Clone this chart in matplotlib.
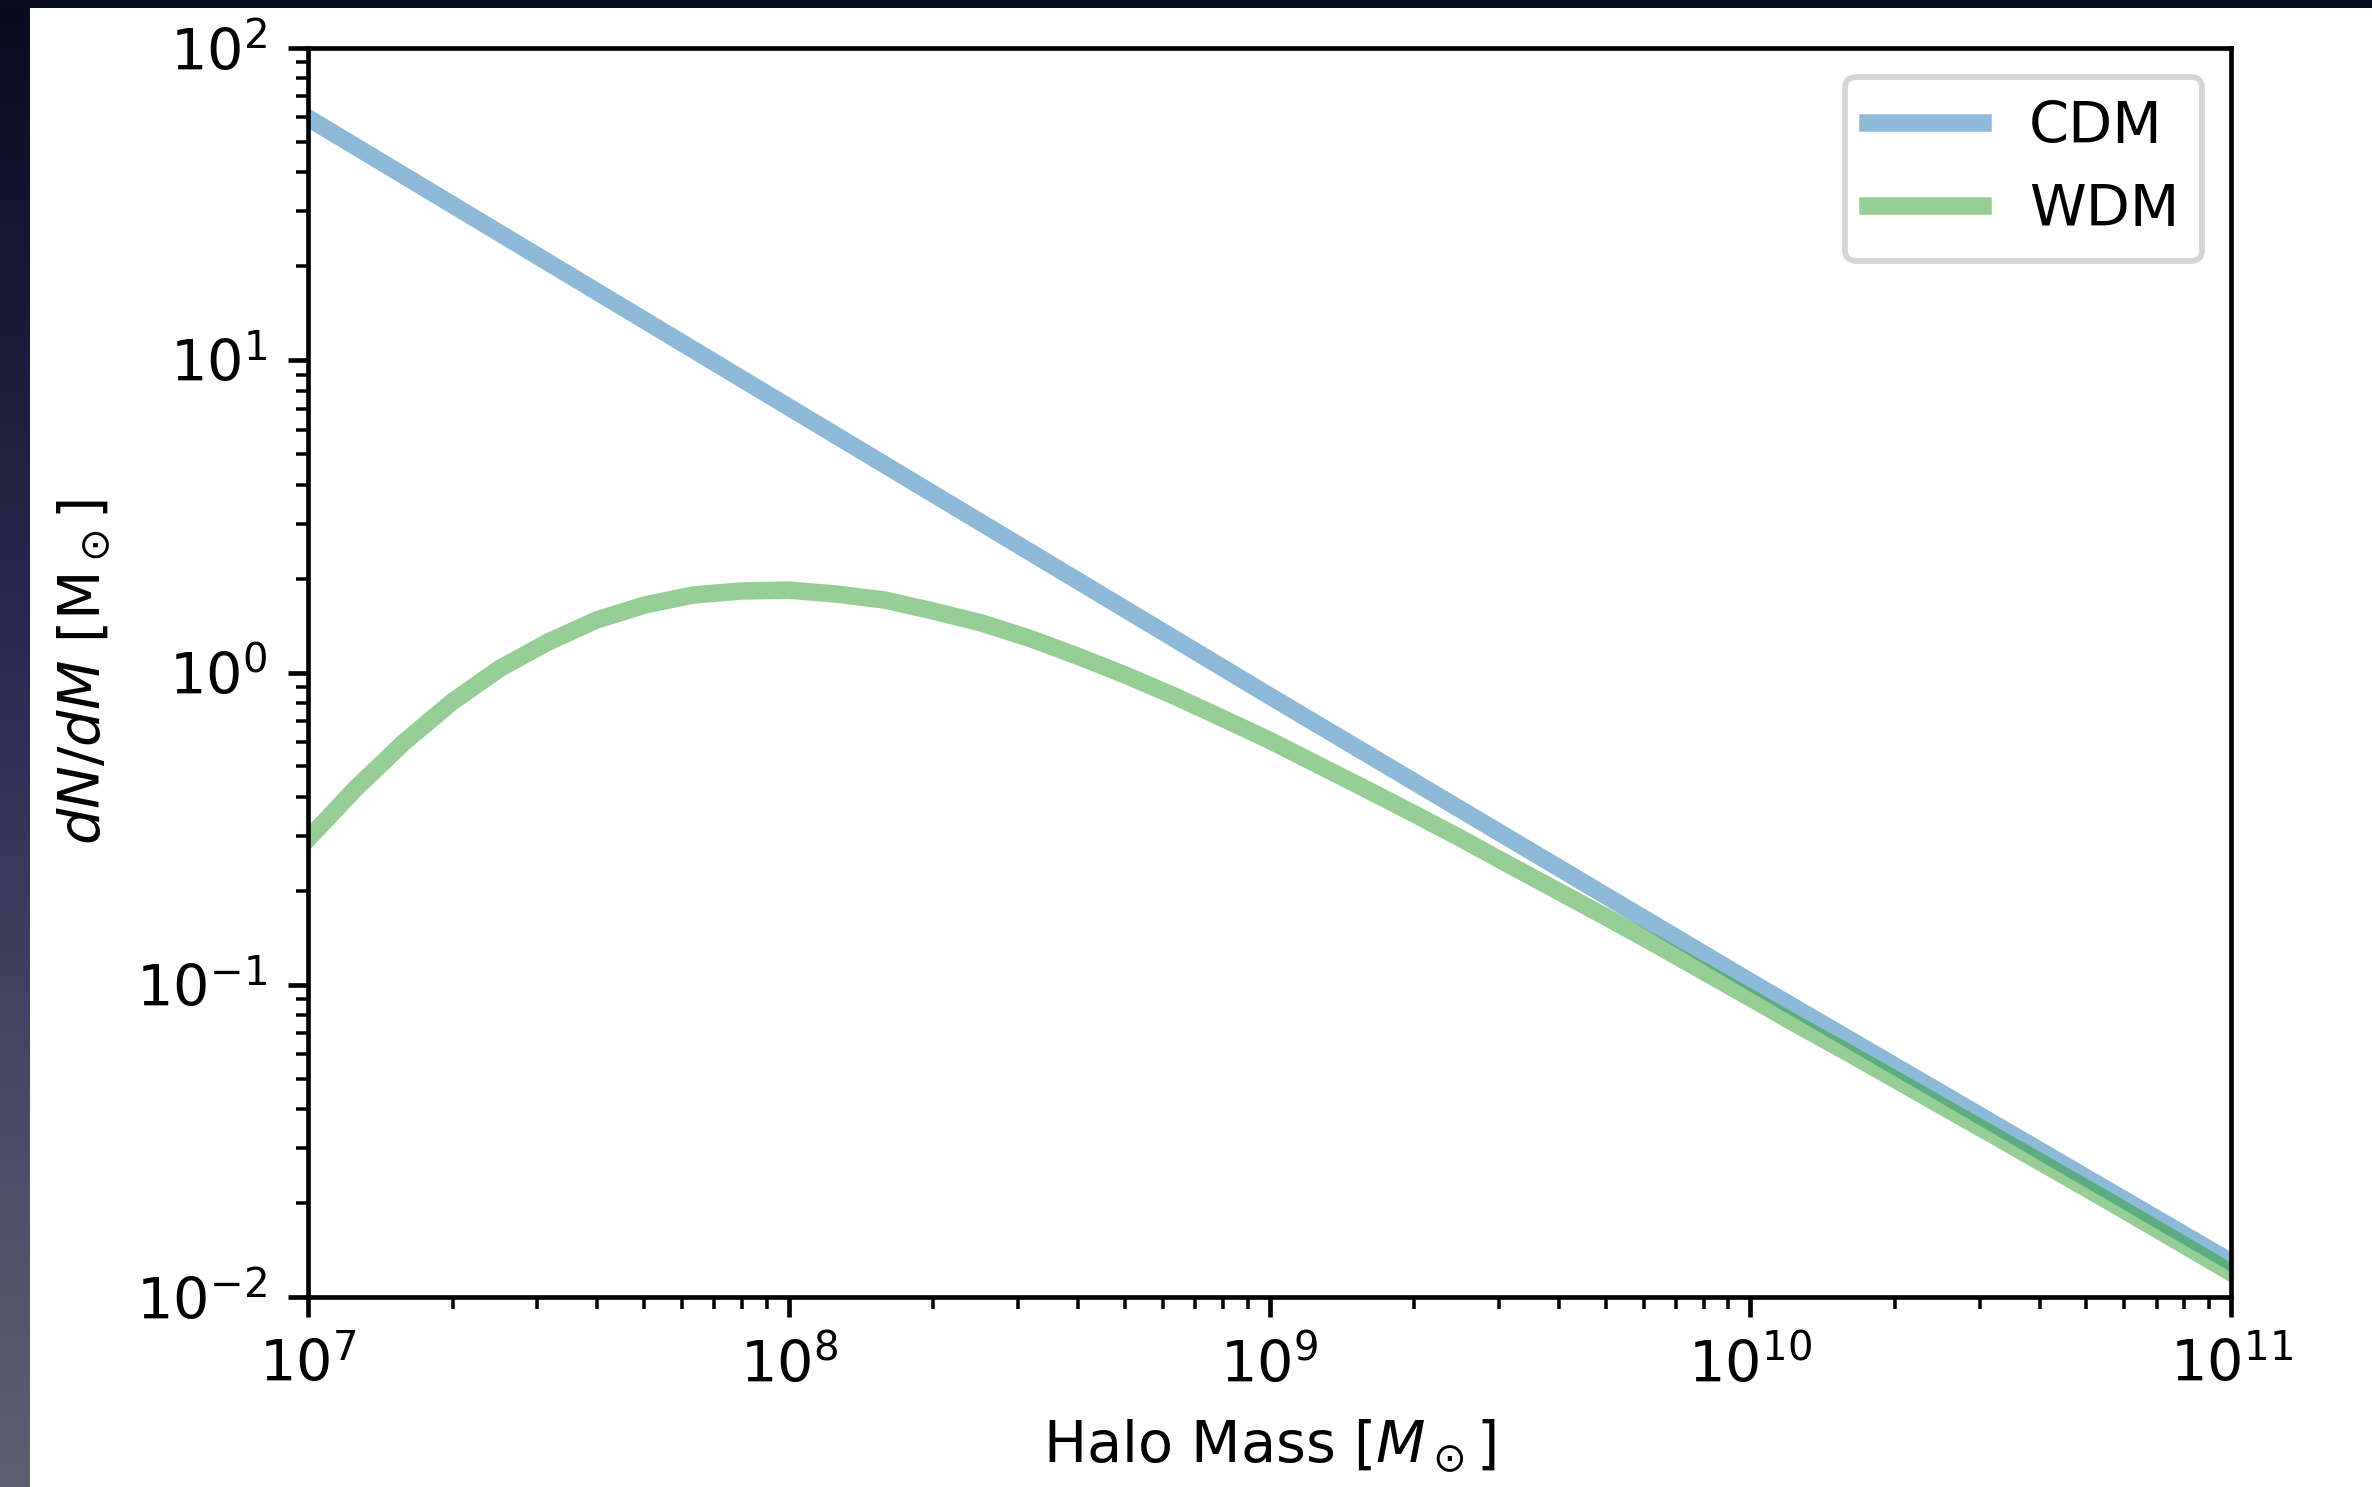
# Halo mass function, CDM vs WDM
import numpy as np
import matplotlib.pyplot as plt

# log10 of halo mass for the WDM curve (0.1 dex steps from 1e7 to 1e11)
log_mass = [7.0, 7.1, 7.2, 7.3, 7.4, 7.5, 7.6, 7.7, 7.8, 7.9,
            8.0, 8.1, 8.2, 8.3, 8.4, 8.5, 8.6, 8.7, 8.8, 8.9,
            9.0, 9.1, 9.2, 9.3, 9.4, 9.5, 9.6, 9.7, 9.8, 9.9,
            10.0, 10.1, 10.2, 10.3, 10.4, 10.5, 10.6, 10.7, 10.8, 10.9,
            11.0]
# log10 dN/dM
log_wdm = [-0.533, -0.370, -0.223, -0.094, 0.014, 0.098, 0.168, 0.216, 0.248, 0.261,
           0.264, 0.251, 0.232, 0.197, 0.159, 0.110, 0.053, -0.008, -0.074, -0.145,
           -0.217, -0.295, -0.373, -0.452, -0.533, -0.617, -0.700, -0.783, -0.868, -0.955,
           -1.042, -1.130, -1.215, -1.302, -1.390, -1.477, -1.565, -1.653, -1.742, -1.832,
           -1.922]

# CDM is a straight power law, read at each decade
log_mass_cdm = [7.0, 8.0, 9.0, 10.0, 11.0]
log_cdm = [1.776, 0.850, -0.075, -0.990, -1.888]

mass = 10 ** np.array(log_mass)
wdm = 10 ** np.array(log_wdm)
mass_cdm = 10 ** np.array(log_mass_cdm)
cdm = 10 ** np.array(log_cdm)

plt.rcParams['font.size'] = 9.85

W, H, DPI = 2372, 1487, 420
fig = plt.figure(figsize=(W / DPI, H / DPI), dpi=DPI)

# dark slide border on the left and top edges
bg = fig.add_axes([0, 0, 1, 1], zorder=-10)
bg.axis('off')
grad = np.array([[9, 11, 34], [28, 28, 60], [48, 48, 88], [72, 75, 102], [92, 96, 114]]) / 255.0
col = np.array([np.interp(np.linspace(0, 1, 200), np.linspace(0, 1, len(grad)), grad[:, k])
                for k in range(3)]).T
bg.imshow(col[:, None, :], extent=[0, 30, H, 0], aspect='auto', interpolation='bilinear')
bg.add_patch(plt.Rectangle((0, 0), W, 8, color='#0a0c22', lw=0))
bg.set_xlim(0, W)
bg.set_ylim(H, 0)

ax = fig.add_axes([308 / W, 1 - 1297 / H, (2231 - 308) / W, (1297 - 48) / H])
ax.plot(mass_cdm, cdm, color='C0', lw=3, alpha=0.5, label='CDM')
ax.plot(mass, wdm, color='C2', lw=3, alpha=0.5, label='WDM')
ax.set_xscale('log')
ax.set_yscale('log')
ax.set_xlim(1e7, 1e11)
ax.set_ylim(1e-2, 1e2)
ax.set_xlabel(r'Halo Mass [$M_\odot$]')
ax.set_ylabel(r'$dN/dM$ [M$_\odot$]')
ax.legend(loc='upper right')

fig.savefig('out.png', dpi=DPI)
